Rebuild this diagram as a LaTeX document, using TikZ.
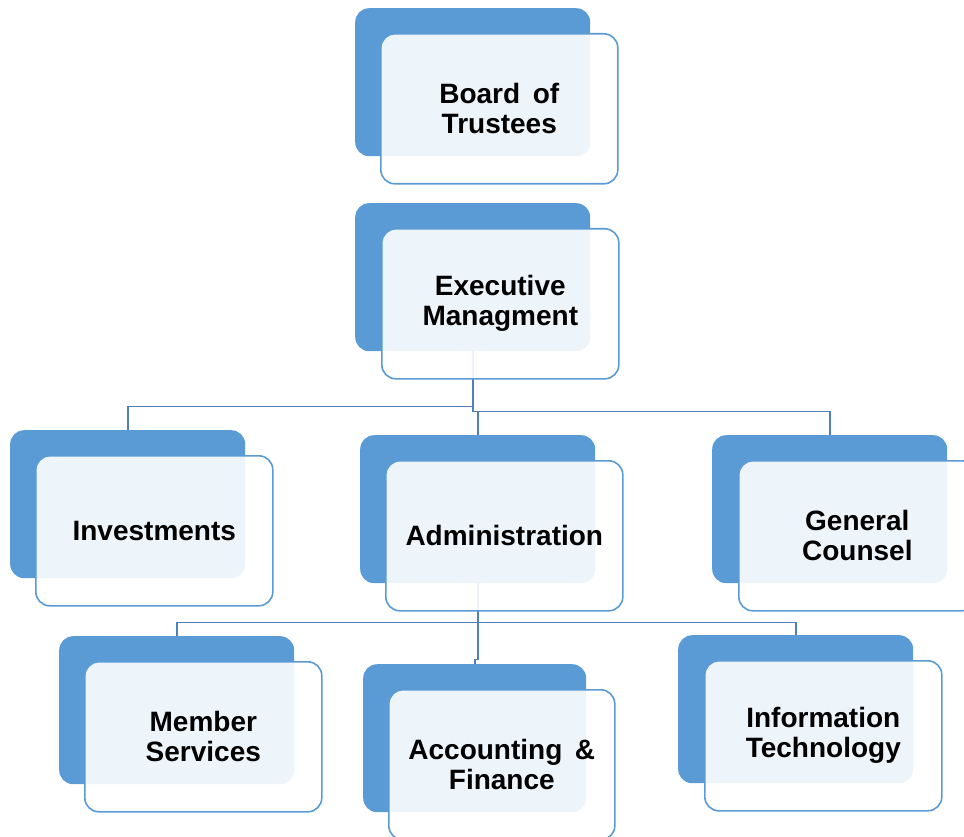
\documentclass[tikz,border=0pt]{standalone}
\usepackage{fontspec}
\setmainfont{Liberation Sans}
\definecolor{bk}{HTML}{5B9BD5}
\definecolor{ln}{HTML}{4E80BD}
\pgfdeclarelayer{bg}
\pgfsetlayers{bg,main}
\begin{document}
\begin{tikzpicture}[x=1pt,y=-1pt,
  backbox/.style={fill=bk, rounded corners=14pt, anchor=north west, inner sep=0pt, minimum width=235pt, minimum height=148pt},
  frontbox/.style={fill=white, fill opacity=0.9, text opacity=1, draw=bk, line width=1.6pt, rounded corners=14pt, anchor=north west, inner sep=0pt, align=center, minimum width=237pt, minimum height=150pt, font=\bfseries\fontsize{28}{30}\selectfont},
  conn/.style={draw=ln, line width=1.8pt}]
\useasboundingbox (0,0) rectangle (964,837);
% Board
\node[backbox] (bB) at (355,8) {};
\node[frontbox] (bF) at (380,33) {Board\hspace{0.45em}of\\Trustees};
% Executive
\node[backbox] (eB) at (355,203) {};
\node[frontbox] (eF) at (381,228) {Executive\\Managment};
% Investments
\node[backbox] (iB) at (10,430) {};
\node[frontbox] (iF) at (35,455) {Investments};
% Administration
\node[backbox] (aB) at (360,435) {};
\node[frontbox] (aF) at (385,460) {Administration};
% General Counsel
\node[backbox] (gB) at (712,435) {};
\node[frontbox] (gF) at (738,460) {General\\Counsel};
% Member Services
\node[backbox] (mB) at (59,636) {};
\node[frontbox] (mF) at (84,661) {Member\\Services};
% Accounting & Finance
\node[backbox, minimum width=223pt] (cB) at (363,664) {};
\node[frontbox, minimum width=226pt] (cF) at (388,689) {Accounting\hspace{0.45em}\&\\Finance};
% Information Technology
\node[backbox] (tB) at (678,635) {};
\node[frontbox] (tF) at (704,660) {Information\\Technology};
\begin{pgfonlayer}{bg}
\draw[conn] (eB.south) -- ++(0,55) -| (iB.north);
\draw[conn] (eB.south) -- ++(0,60) -| (gB.north);
\draw[conn] (eB.south) -- ++(0,60) -| (aB.north);
\draw[conn] (aB.south) -- ++(0,39) -| (mB.north);
\draw[conn] (aB.south) -- ++(0,39) -| (tB.north);
\draw[conn] (aB.south) -- ++(0,76) -| (cB.north);
\end{pgfonlayer}
\end{tikzpicture}
\end{document}
